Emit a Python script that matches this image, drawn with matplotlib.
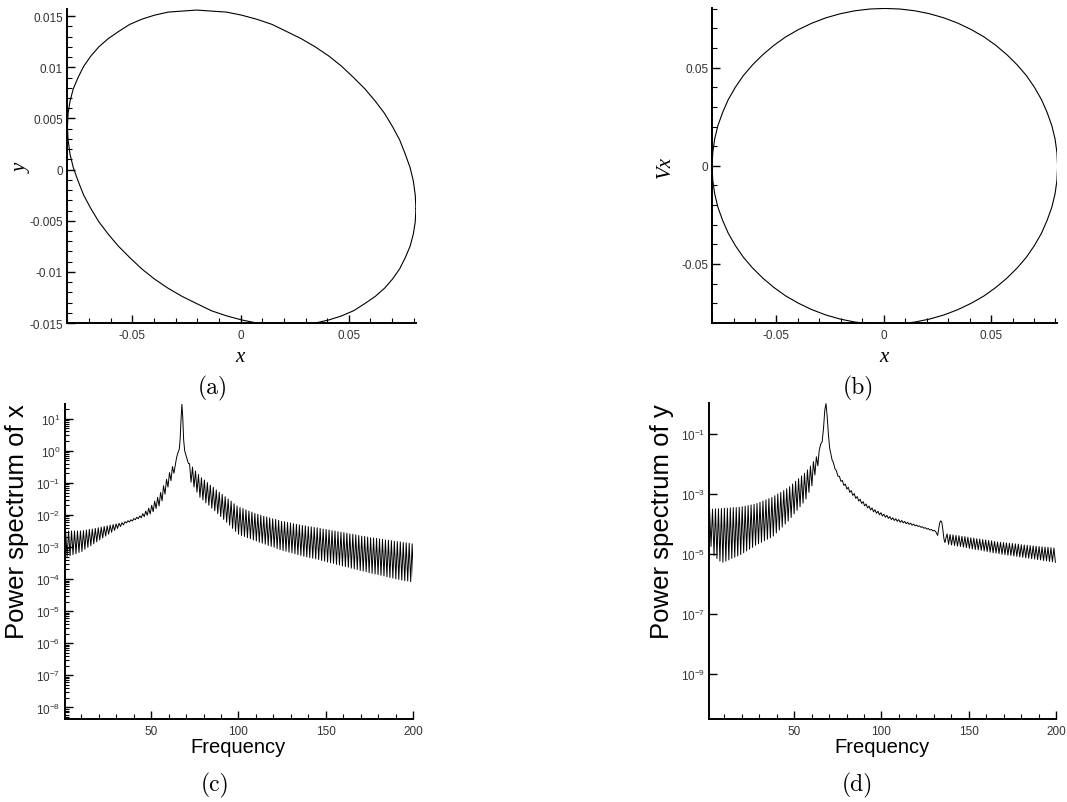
import matplotlib.pyplot as plt
import numpy as np
from matplotlib.ticker import (FixedLocator, MultipleLocator, NullLocator,
                               FuncFormatter, LogLocator, LogFormatterMathtext)

plt.rcParams['font.family'] = ['Liberation Sans', 'DejaVu Sans']
plt.rcParams['mathtext.default'] = 'regular'
plt.rcParams['axes.unicode_minus'] = False

# ---- phase portraits, orbit sampled every 5 degrees ----
x_orbit = [0.0810, 0.0807, 0.0798, 0.0783, 0.0761, 0.0735, 0.0702, 0.0665, 0.0622,
           0.0574, 0.0522, 0.0467, 0.0408, 0.0345, 0.0280, 0.0213, 0.0145, 0.0075,
           0.0005, -0.0065, -0.0135, -0.0203, -0.0270, -0.0335, -0.0398, -0.0457,
           -0.0512, -0.0564, -0.0612, -0.0655, -0.0692, -0.0725, -0.0751, -0.0773,
           -0.0788, -0.0797, -0.0800, -0.0797, -0.0788, -0.0773, -0.0751, -0.0725,
           -0.0692, -0.0655, -0.0612, -0.0564, -0.0512, -0.0457, -0.0398, -0.0335,
           -0.0270, -0.0203, -0.0135, -0.0065, 0.0005, 0.0075, 0.0145, 0.0213,
           0.0280, 0.0345, 0.0408, 0.0467, 0.0522, 0.0574, 0.0622, 0.0665, 0.0702,
           0.0735, 0.0761, 0.0783, 0.0798, 0.0807]
y_orbit = [-0.0038, -0.0025, -0.0011, 0.0002, 0.0015, 0.0029, 0.0042, 0.0055, 0.0067,
           0.0079, 0.0090, 0.0101, 0.0111, 0.0120, 0.0128, 0.0135, 0.0142, 0.0147,
           0.0151, 0.0154, 0.0155, 0.0156, 0.0155, 0.0154, 0.0151, 0.0147, 0.0142,
           0.0135, 0.0128, 0.0120, 0.0111, 0.0101, 0.0090, 0.0079, 0.0067, 0.0055,
           0.0042, 0.0029, 0.0015, 0.0002, -0.0011, -0.0025, -0.0038, -0.0051,
           -0.0063, -0.0075, -0.0086, -0.0097, -0.0107, -0.0116, -0.0124, -0.0131,
           -0.0138, -0.0143, -0.0147, -0.0150, -0.0151, -0.0152, -0.0151, -0.0150,
           -0.0147, -0.0143, -0.0138, -0.0131, -0.0124, -0.0116, -0.0107, -0.0097,
           -0.0086, -0.0075, -0.0063, -0.0051]
vx_orbit = [-0.0003, 0.0067, 0.0137, 0.0205, 0.0272, 0.0337, 0.0400, 0.0459, 0.0514,
            0.0566, 0.0614, 0.0657, 0.0694, 0.0727, 0.0754, 0.0775, 0.0790, 0.0799,
            0.0802, 0.0799, 0.0790, 0.0775, 0.0754, 0.0727, 0.0694, 0.0657, 0.0614,
            0.0566, 0.0514, 0.0459, 0.0400, 0.0337, 0.0272, 0.0205, 0.0137, 0.0067,
            -0.0003, -0.0073, -0.0143, -0.0211, -0.0278, -0.0343, -0.0406, -0.0465,
            -0.0520, -0.0572, -0.0620, -0.0663, -0.0700, -0.0733, -0.0760, -0.0781,
            -0.0796, -0.0805, -0.0808, -0.0805, -0.0796, -0.0781, -0.0760, -0.0733,
            -0.0700, -0.0663, -0.0620, -0.0572, -0.0520, -0.0465, -0.0406, -0.0343,
            -0.0278, -0.0211, -0.0143, -0.0073]

# ---- power spectra, log10 values of ripple peaks (hi) and troughs (lo) ----
bin_step = 1.7   # ripple period in frequency

# spectrum of x
cx_left_start = 1.0
cx_left_hi = [-2.50, -2.50, -2.50, -2.50, -2.50, -2.50, -2.49, -2.47, -2.45, -2.44,
              -2.42, -2.40, -2.38, -2.36, -2.34, -2.32, -2.30, -2.28, -2.26, -2.24,
              -2.21, -2.18, -2.15, -2.11, -2.07, -2.03, -1.96, -1.88, -1.79, -1.70,
              -1.57, -1.45, -1.30, -1.09, -0.89, -0.68, -0.49]
cx_left_lo = [-3.29, -3.27, -3.24, -3.21, -3.17, -3.14, -3.07, -3.01, -2.96, -2.90,
              -2.84, -2.78, -2.72, -2.66, -2.60, -2.54, -2.48, -2.42, -2.36, -2.31,
              -2.25, -2.22, -2.19, -2.15, -2.12, -2.09, -2.05, -2.01, -1.97, -1.90,
              -1.80, -1.72, -1.56, -1.35, -1.13, -0.93, -0.70]
cx_peak_f = [63.9, 64.6, 65.4, 66.1, 66.6, 67.1, 67.6, 68.1, 68.6, 69.2, 70.0, 70.8, 71.4]
cx_peak_v = [-0.42, -0.20, -0.05, 0.05, 0.35, 0.95, 1.45, 1.05, 0.35, 0.00, -0.15, -0.30, -0.40]
cx_right_start = 72.0
cx_right_hi = [-0.40, -0.51, -0.63, -0.74, -0.84, -0.91, -0.99, -1.07, -1.14, -1.22,
               -1.29, -1.36, -1.43, -1.50, -1.57, -1.65, -1.72, -1.77, -1.80, -1.84,
               -1.88, -1.91, -1.95, -1.98, -2.01, -2.04, -2.06, -2.09, -2.12, -2.14,
               -2.17, -2.20, -2.21, -2.23, -2.25, -2.27, -2.29, -2.31, -2.33, -2.34,
               -2.36, -2.37, -2.39, -2.40, -2.42, -2.44, -2.45, -2.47, -2.49, -2.50,
               -2.52, -2.54, -2.55, -2.57, -2.59, -2.60, -2.62, -2.64, -2.66, -2.67,
               -2.69, -2.71, -2.72, -2.73, -2.75, -2.76, -2.78, -2.79, -2.80, -2.82,
               -2.83, -2.84, -2.86, -2.87, -2.88, -2.90]
cx_right_lo = [-0.98, -1.13, -1.29, -1.45, -1.53, -1.62, -1.70, -1.79, -1.87, -1.96,
               -2.05, -2.14, -2.23, -2.32, -2.42, -2.51, -2.60, -2.64, -2.67, -2.71,
               -2.74, -2.78, -2.81, -2.85, -2.88, -2.91, -2.95, -2.98, -3.01, -3.05,
               -3.08, -3.11, -3.13, -3.16, -3.18, -3.21, -3.24, -3.26, -3.29, -3.31,
               -3.33, -3.35, -3.37, -3.39, -3.42, -3.44, -3.47, -3.49, -3.51, -3.54,
               -3.56, -3.59, -3.61, -3.63, -3.66, -3.68, -3.70, -3.73, -3.75, -3.77,
               -3.80, -3.82, -3.84, -3.86, -3.88, -3.90, -3.93, -3.95, -3.97, -3.99,
               -4.01, -4.03, -4.05, -4.06, -4.08, -4.10]

# spectrum of y
dy_left_start = 1.5
dy_left_hi = [-3.50, -3.50, -3.49, -3.49, -3.48, -3.47, -3.47, -3.46, -3.45, -3.45,
              -3.44, -3.42, -3.40, -3.38, -3.36, -3.34, -3.31, -3.27, -3.23, -3.19,
              -3.15, -3.11, -3.05, -2.99, -2.94, -2.88, -2.82, -2.75, -2.66, -2.57,
              -2.48, -2.39, -2.30, -2.19, -2.06, -1.91, -1.75]
dy_left_lo = [-4.75, -5.05, -5.15, -5.24, -5.28, -5.24, -5.20, -5.15, -5.11, -5.07,
              -5.02, -4.96, -4.90, -4.84, -4.78, -4.71, -4.66, -4.61, -4.56, -4.51,
              -4.46, -4.40, -4.30, -4.20, -4.10, -4.00, -3.90, -3.78, -3.66, -3.54,
              -3.42, -3.30, -3.16, -2.94, -2.72, -2.36, -2.05]
dy_peak_f = [64.3, 65.2, 66.0, 66.8, 67.5, 68.2, 68.9, 69.6, 70.3, 71.0, 71.7]
dy_peak_v = [-1.55, -1.32, -1.25, -0.80, -0.20, 0.03, -0.40, -1.00, -1.45, -1.65, -1.85]
dy_mid_start = 72.5
dy_mid_hi = [-1.95, -2.22, -2.40, -2.54, -2.66, -2.77, -2.88, -2.98, -3.08, -3.17,
             -3.25, -3.33, -3.40, -3.46, -3.52, -3.57, -3.62, -3.67, -3.71, -3.75,
             -3.79, -3.82, -3.85, -3.88, -3.91, -3.94, -3.97, -4.00, -4.03, -4.06,
             -4.09, -4.12, -4.15, -4.18, -4.21]
dy_mid_lo = [-2.15, -2.40, -2.57, -2.71, -2.83, -2.94, -3.04, -3.14, -3.23, -3.31,
             -3.39, -3.46, -3.53, -3.59, -3.64, -3.69, -3.73, -3.77, -3.81, -3.85,
             -3.88, -3.91, -3.94, -3.96, -3.99, -4.01, -4.04, -4.06, -4.08, -4.11,
             -4.14, -4.17, -4.20, -4.23, -4.26]
dy_bump_f = [131.5, 132.2, 132.8, 133.4, 134.0, 134.6, 135.2, 135.8, 136.4, 137.0]
dy_bump_v = [-4.30, -4.38, -4.15, -3.95, -3.89, -3.95, -4.20, -4.50, -4.62, -4.45]
dy_right_start = 137.6
dy_right_hi = [-4.33, -4.35, -4.36, -4.38, -4.39, -4.41, -4.42, -4.44, -4.46, -4.47,
               -4.49, -4.50, -4.52, -4.53, -4.55, -4.56, -4.58, -4.60, -4.61, -4.62,
               -4.63, -4.64, -4.65, -4.66, -4.67, -4.69, -4.70, -4.71, -4.72, -4.73,
               -4.74, -4.75, -4.76, -4.77, -4.78, -4.79, -4.80]
dy_right_lo = [-4.68, -4.70, -4.72, -4.74, -4.75, -4.77, -4.79, -4.81, -4.83, -4.85,
               -4.86, -4.88, -4.90, -4.92, -4.94, -4.96, -4.97, -4.99, -5.01, -5.02,
               -5.04, -5.05, -5.07, -5.08, -5.10, -5.11, -5.13, -5.14, -5.16, -5.17,
               -5.19, -5.20, -5.22, -5.23, -5.25, -5.26, -5.28]


def ripple(start, hi, lo):
    # peaks on the frequency grid, troughs half a period later
    f = start + bin_step * np.arange(len(hi))
    ff = np.column_stack([f, f + bin_step / 2]).ravel()
    vv = np.column_stack([hi, lo]).ravel()
    return ff, vv


def join(*parts):
    f = np.concatenate([p[0] for p in parts])
    v = np.concatenate([p[1] for p in parts])
    return f, 10.0 ** v


fx, px = join(ripple(cx_left_start, cx_left_hi, cx_left_lo),
              (np.array(cx_peak_f), np.array(cx_peak_v)),
              ripple(cx_right_start, cx_right_hi, cx_right_lo))
fy, py = join(ripple(dy_left_start, dy_left_hi, dy_left_lo),
              (np.array(dy_peak_f), np.array(dy_peak_v)),
              ripple(dy_mid_start, dy_mid_hi, dy_mid_lo),
              (np.array(dy_bump_f), np.array(dy_bump_v)),
              ripple(dy_right_start, dy_right_hi, dy_right_lo))

fig = plt.figure(figsize=(10.67, 8.03), dpi=100)
ax_a = fig.add_axes([0.0628, 0.5965, 0.327, 0.391])
ax_b = fig.add_axes([0.6676, 0.5965, 0.3228, 0.392])
ax_c = fig.add_axes([0.0605, 0.1034, 0.3266, 0.3923])
ax_d = fig.add_axes([0.6645, 0.1034, 0.3252, 0.3935])

gfmt = FuncFormatter(lambda v, p: '%g' % round(v, 6))


def style(ax):
    for s in ['top', 'right']:
        ax.spines[s].set_visible(False)
    for s in ['left', 'bottom']:
        ax.spines[s].set_linewidth(1.4)
    ax.tick_params(which='both', direction='in', labelcolor='#333333', labelsize=8.5)
    ax.tick_params(which='major', length=5.5, width=1.0)
    ax.tick_params(which='minor', length=3.5, width=0.8)
    ax.tick_params(axis='y', pad=3)
    ax.tick_params(axis='x', pad=4)


# (a) x - y
ax_a.plot(x_orbit + x_orbit[:1], y_orbit + y_orbit[:1], color='black', lw=0.8)
ax_a.set_xlim(-0.0802, 0.081)
ax_a.set_ylim(-0.015, 0.0157)
ax_a.xaxis.set_major_locator(FixedLocator([-0.05, 0, 0.05]))
ax_a.xaxis.set_minor_locator(MultipleLocator(0.01))
ax_a.yaxis.set_major_locator(FixedLocator([-0.015, -0.01, -0.005, 0, 0.005, 0.01, 0.015]))
ax_a.yaxis.set_minor_locator(MultipleLocator(0.001))
ax_a.xaxis.set_major_formatter(gfmt)
ax_a.yaxis.set_major_formatter(gfmt)
style(ax_a)

# (b) x - Vx
ax_b.plot(x_orbit + x_orbit[:1], vx_orbit + vx_orbit[:1], color='black', lw=0.8)
ax_b.set_xlim(-0.0799, 0.0806)
ax_b.set_ylim(-0.0801, 0.0803)
ax_b.xaxis.set_major_locator(FixedLocator([-0.05, 0, 0.05]))
ax_b.xaxis.set_minor_locator(MultipleLocator(0.01))
ax_b.yaxis.set_major_locator(FixedLocator([-0.05, 0, 0.05]))
ax_b.yaxis.set_minor_locator(MultipleLocator(0.01))
ax_b.xaxis.set_major_formatter(gfmt)
ax_b.yaxis.set_major_formatter(gfmt)
style(ax_b)

# (c) spectrum of x
ax_c.plot(fx, px, color='black', lw=0.7)
ax_c.set_yscale('log')
ax_c.set_xlim(0.4, 200)
ax_c.set_ylim(10 ** -8.36, 10 ** 1.46)
ax_c.yaxis.set_major_locator(LogLocator(base=10, numticks=20))
ax_c.yaxis.set_minor_locator(LogLocator(base=10, subs=np.arange(2, 10), numticks=20))
ax_c.yaxis.set_major_formatter(LogFormatterMathtext())
ax_c.xaxis.set_major_locator(FixedLocator([50, 100, 150, 200]))
ax_c.xaxis.set_minor_locator(MultipleLocator(10))
style(ax_c)
ax_c.tick_params(axis='y', which='minor', length=3)

# (d) spectrum of y
ax_d.plot(fy, py, color='black', lw=0.7)
ax_d.set_yscale('log')
ax_d.set_xlim(1.2, 200)
ax_d.set_ylim(10 ** -10.52, 10 ** 0.05)
ax_d.yaxis.set_major_locator(FixedLocator([1e-9, 1e-7, 1e-5, 1e-3, 1e-1]))
ax_d.yaxis.set_minor_locator(NullLocator())
ax_d.yaxis.set_major_formatter(LogFormatterMathtext())
ax_d.xaxis.set_major_locator(FixedLocator([50, 100, 150, 200]))
ax_d.xaxis.set_minor_locator(MultipleLocator(10))
style(ax_d)

# axis titles
serif_it = dict(family=['Liberation Serif', 'DejaVu Serif'], style='italic', fontsize=15)
fig.text(0.2249, 0.5554, 'x', ha='center', va='center', **serif_it)
fig.text(0.0206, 0.7908, 'y', ha='center', va='center', rotation=90, **serif_it)
fig.text(0.8285, 0.5554, 'x', ha='center', va='center', **serif_it)
fig.text(0.6232, 0.7920, 'Vx', ha='center', va='center', rotation=90, **serif_it)

fig.text(0.2231, 0.0685, 'Frequency', ha='center', va='center', fontsize=14.5)
fig.text(0.8266, 0.0685, 'Frequency', ha='center', va='center', fontsize=14.5)
fig.text(0.0159, 0.350, 'Power spectrum of x', ha='center', va='center', rotation=90, fontsize=18.5)
fig.text(0.6200, 0.350, 'Power spectrum of y', ha='center', va='center', rotation=90, fontsize=18.5)

# captions
cap = dict(family=['cmr10', 'DejaVu Serif'], fontsize=17, ha='center', va='center')
fig.text(0.1996, 0.5168, '(a)', **cap)
fig.text(0.8041, 0.5168, '(b)', **cap)
fig.text(0.2015, 0.0224, '(c)', **cap)
fig.text(0.8038, 0.0224, '(d)', **cap)

plt.savefig('out.png', dpi=100)
